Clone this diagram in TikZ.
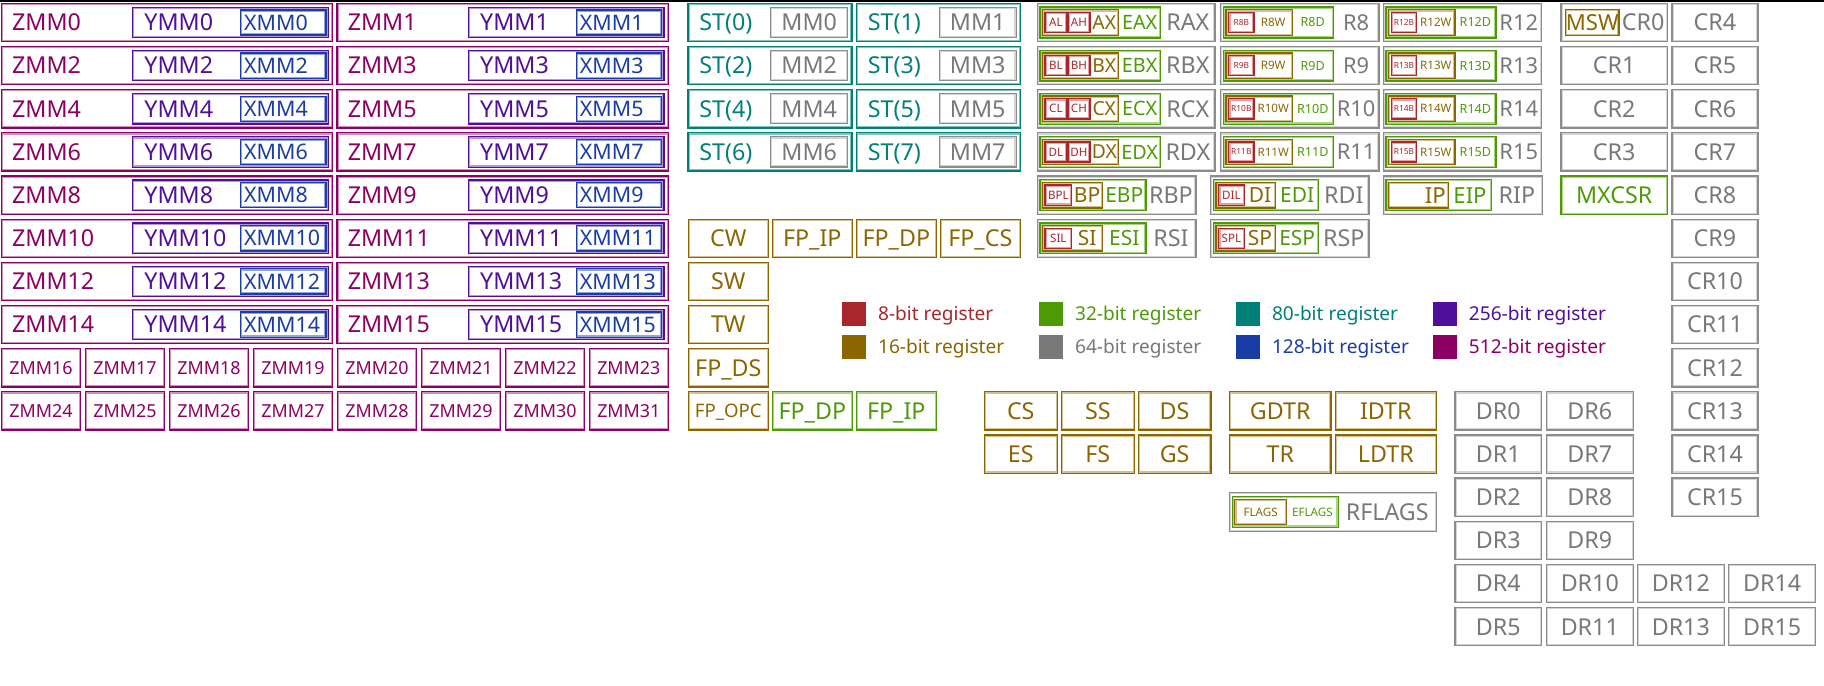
\documentclass[tikz,border=0pt]{standalone}
\usepackage{fontspec}
\setmainfont{Noto Sans}
\usetikzlibrary{fit}
\definecolor{c8}{RGB}{168,38,44}
\definecolor{c8L}{RGB}{226,160,162}
\definecolor{c16}{RGB}{140,101,0}
\definecolor{c16L}{RGB}{212,192,140}
\definecolor{c32}{RGB}{78,154,6}
\definecolor{c32L}{RGB}{172,212,135}
\definecolor{c64}{RGB}{120,120,120}
\definecolor{c64b}{RGB}{140,140,140}
\definecolor{c64bL}{RGB}{212,212,212}
\definecolor{c80}{RGB}{0,128,120}
\definecolor{c80L}{RGB}{125,198,192}
\definecolor{c128}{RGB}{25,60,165}
\definecolor{c128L}{RGB}{145,165,220}
\definecolor{c256}{RGB}{80,15,155}
\definecolor{c256L}{RGB}{180,152,218}
\definecolor{c512}{RGB}{140,0,100}
\definecolor{c512L}{RGB}{212,142,190}
\tikzset{
  rb/.style={draw=#1, line width=0.55pt, inner sep=0pt, outer sep=0pt,
    path picture={\draw[#1L, line width=1.5pt] (path picture bounding box.south west) rectangle (path picture bounding box.north east);}},
  tx/.style={inner sep=0pt, anchor=base, font=\fontsize{#1pt}{#1pt}\selectfont, yshift={-0.357*#1pt}},
  txw/.style={tx=#1, anchor=base west},
  swatch/.style={fill=#1, inner sep=0pt, minimum size=10.3pt, anchor=north west},
}
\newcommand\regbox[8]{%
  \pgfmathsetmacro\yt{2.9+37.1*(#3)}%
  \node[rb=#5, fit={(#2,\yt) (#4,\yt+32.9)}] (#1) {};
  \node[tx=#6, text=#8] (#1-t) at (#1.center) {#7};}
\begin{document}
\begin{tikzpicture}[x=0.5pt,y=-0.5pt]
\useasboundingbox (0,0) rectangle (1568,589);
\fill[black] (0,0) rectangle (1568,1.7);

% ---------- ZMM / YMM / XMM ----------
\foreach \ri in {0,...,7}{
  \pgfmathsetmacro\yt{2.9+37.1*\ri}
  \pgfmathsetmacro\yb{\yt+32.9}
  \pgfmathsetmacro\ym{\yt+16.45}
  \pgfmathtruncatemacro\na{2*\ri}
  \pgfmathtruncatemacro\nb{2*\ri+1}
  \foreach \n/\dx in {\na/0,\nb/288.6}{
    \node[rb=c512, fit={(1+\dx,\yt) (286+\dx,\yb)}] (zmm\n) {};
    \node[txw=10, text=c512] (zmm\n-t) at (10+\dx,\ym) {ZMM\n};
    \node[rb=c256, fit={(114.1+\dx,\yt+3.4) (282.2+\dx,\yb-3.4)}] (ymm\n) {};
    \node[txw=10, text=c256] (ymm\n-t) at (123.8+\dx,\ym) {YMM\n};
    \node[rb=c128, fit={(206.9+\dx,\yt+5.6) (280.2+\dx,\yb-5.6)}] (xmm\n) {};
    \node[txw=9.2, text=c128] (xmm\n-t) at (209.5+\dx,\ym) {XMM\n};
  }
}
\foreach \k in {0,...,7}{
  \pgfmathsetmacro\xl{1.1+72.2*\k}
  \pgfmathtruncatemacro\na{16+\k}
  \pgfmathtruncatemacro\nb{24+\k}
  \node[rb=c512, fit={(\xl,299.7) (\xl+68.2,332.6)}] (zmm\na) {};
  \node[tx=7.7, text=c512] (zmm\na-t) at (zmm\na.center) {ZMM\na};
  \node[rb=c512, fit={(\xl,336.8) (\xl+68.2,369.7)}] (zmm\nb) {};
  \node[tx=7.7, text=c512] (zmm\nb-t) at (zmm\nb.center) {ZMM\nb};
}

% ---------- x87 ST / MM ----------
\foreach \ri in {0,...,3}{
  \pgfmathsetmacro\yt{2.9+37.1*\ri}
  \pgfmathsetmacro\yb{\yt+32.9}
  \pgfmathsetmacro\ym{\yt+16.45}
  \pgfmathtruncatemacro\na{2*\ri}
  \pgfmathtruncatemacro\nb{2*\ri+1}
  \foreach \n/\dx in {\na/0,\nb/144.9}{
    \node[rb=c80, fit={(591.5+\dx,\yt) (732.4+\dx,\yb)}] (st\n) {};
    \node[tx=10, text=c80] (st\n-t) at (624+\dx,\ym) {ST(\n)};
    \node[rb=c64b, fit={(662.5+\dx,\yt+3.4) (728.7+\dx,\yb-3.6)}] (mm\n) {};
    \node[tx=10, text=c64] (mm\n-t) at (695.6+\dx,\ym) {MM\n};
  }
}

% ---------- x87 control ----------
\regbox{cw}{591.7}{5}{660.5}{c16}{10}{CW}{c16}
\regbox{fpip}{663.9}{5}{732.7}{c16}{10}{FP\_IP}{c16}
\regbox{fpdp}{736.1}{5}{804.9}{c16}{10}{FP\_DP}{c16}
\regbox{fpcs}{808.3}{5}{877.1}{c16}{10}{FP\_CS}{c16}
\regbox{sw}{591.7}{6}{660.5}{c16}{10}{SW}{c16}
\regbox{tw}{591.7}{7}{660.5}{c16}{10}{TW}{c16}
\regbox{fpds}{591.7}{8}{660.5}{c16}{10}{FP\_DS}{c16}
\regbox{fpopc}{591.7}{9}{660.5}{c16}{8}{FP\_OPC}{c16}
\regbox{fpdpb}{663.9}{9}{732.7}{c32}{10}{FP\_DP}{c32}
\regbox{fpipb}{736.1}{9}{804.9}{c32}{10}{FP\_IP}{c32}

% ---------- legend ----------
\foreach \col/\row/\cc/\bits in {0/0/c8/8,0/1/c16/16,1/0/c32/32,1/1/c64/64,2/0/c80/80,2/1/c128/128,3/0/c256/256,3/1/c512/512}{
  \pgfmathsetmacro\sx{723.2+169.3*\col}
  \pgfmathsetmacro\sy{259.6+27.8*\row}
  \node[swatch=\cc] (sw\bits) at (\sx,\sy) {};
  \node[txw=8.2, text=\cc] (lg\bits) at (\sx+31.3,\sy+10.3) {\bits-bit register};
}

% ---------- RAX..RDX ----------
\foreach \ri/\q in {0/A,1/B,2/C,3/D}{
  \pgfmathsetmacro\yt{2.9+37.1*\ri}
  \pgfmathsetmacro\yb{\yt+32.9}
  \pgfmathsetmacro\ym{\yt+16.45}
  \node[rb=c64b, fit={(891.7,\yt) (1044.4,\yb)}] (r\q-x) {};
  \node[rb=c32, fit={(894.1,\yt+3.2) (997.8,\yb-3.2)}] (e\q-x) {};
  \node[rb=c16, fit={(896.4,\yt+5.5) (961.6,\yb-5.5)}] (\q-x) {};
  \node[rb=c8, fit={(898.4,\yt+7.8) (917,\yb-7.8)}] (\q-l) {};
  \node[rb=c8, fit={(918.1,\yt+7.8) (937,\yb-7.8)}] (\q-h) {};
  \node[tx=10, text=c64] (r\q-x-t) at (1021.1,\ym) {R\q X};
  \node[tx=8.5, text=c32] (e\q-x-t) at (979.7,\ym) {E\q X};
  \node[tx=8.3, text=c16] (\q-x-t) at (949.3,\ym) {\q X};
  \node[tx=5, text=c8] (\q-l-t) at (907.7,\ym) {\q L};
  \node[tx=5, text=c8] (\q-h-t) at (927.5,\ym) {\q H};
}

% ---------- R8..R15 ----------
\foreach \c in {0,1}{
  \pgfmathsetmacro\dx{139.8*\c}
  \foreach \ri in {0,...,3}{
    \pgfmathsetmacro\yt{2.9+37.1*\ri}
    \pgfmathsetmacro\yb{\yt+32.9}
    \pgfmathsetmacro\ym{\yt+16.45}
    \pgfmathtruncatemacro\n{8+4*\c+\ri}
    \node[rb=c64b, fit={(1049.3+\dx,\yt) (1185.4+\dx,\yb)}] (r\n) {};
    \node[rb=c32, fit={(1051.7+\dx,\yt+3.2) (1146.2+\dx,\yb-3.2)}] (r\n-d) {};
    \node[rb=c16, fit={(1054+\dx,\yt+5.5) (1110.9+\dx,\yb-5.5)}] (r\n-w) {};
    \node[rb=c8, fit={(1056.3+\dx,\yt+7.8) (1078+\dx,\yb-7.8)}] (r\n-b) {};
    \node[tx=9.4, text=c64] (r\n-t) at (1165.8+\dx,\ym) {R\n};
    \node[tx=5.4, text=c32] (r\n-d-t) at (1128.5+\dx,\ym) {R\n D};
    \node[tx=5, text=c16] (r\n-w-t) at (1094.5+\dx,\ym) {R\n W};
    \node[tx=3.6, text=c8] (r\n-b-t) at (1067.1+\dx,\ym) {R\n B};
  }
}

% ---------- RBP RSI RDI RSP ----------
\foreach \ri/\pa/\pb in {4/BP/DI,5/SI/SP}{
  \pgfmathsetmacro\yt{2.9+37.1*\ri}
  \pgfmathsetmacro\yb{\yt+32.9}
  \pgfmathsetmacro\ym{\yt+16.45}
  \node[rb=c64b, fit={(891.7,\yt) (1028.1,\yb)}] (r\pa) {};
  \node[rb=c32, fit={(894.1,\yt+3.2) (985.1,\yb-3.2)}] (e\pa) {};
  \node[rb=c16, fit={(896.4,\yt+5.5) (947.9,\yb-5.5)}] (x\pa) {};
  \node[rb=c8, fit={(898.4,\yt+7.8) (921.2,\yb-7.8)}] (l\pa) {};
  \node[tx=5, text=c8] (l\pa-t) at (909.8,\ym) {\pa L};
  \node[tx=9, text=c16] (x\pa-t) at (934.5,\ym) {\pa};
  \node[tx=9, text=c32] (e\pa-t) at (966.5,\ym) {E\pa};
  \node[tx=10, text=c64] (r\pa-t) at (1006.6,\ym) {R\pa};
  \node[rb=c64b, fit={(1040.7,\yt) (1176.8,\yb)}] (r\pb) {};
  \node[rb=c32, fit={(1043.1,\yt+3.2) (1133.6,\yb-3.2)}] (e\pb) {};
  \node[rb=c16, fit={(1045.4,\yt+5.5) (1096.6,\yb-5.5)}] (x\pb) {};
  \node[rb=c8, fit={(1047.7,\yt+7.8) (1069.6,\yb-7.8)}] (l\pb) {};
  \node[tx=5, text=c8] (l\pb-t) at (1058.6,\ym) {\pb L};
  \node[tx=9, text=c16] (x\pb-t) at (1083.1,\ym) {\pb};
  \node[tx=9, text=c32] (e\pb-t) at (1115.1,\ym) {E\pb};
  \node[tx=10, text=c64] (r\pb-t) at (1155.2,\ym) {R\pb};
}

% ---------- RIP ----------
\node[rb=c64b, fit={(1189.1,151.3) (1325.8,184.2)}] (rip) {};
\node[rb=c32, fit={(1191.5,154.5) (1282.3,181)}] (eip) {};
\node[rb=c16, fit={(1193.8,156.8) (1245,178.7)}] (ip) {};
\node[tx=9.5, text=c16, anchor=base east] (ip-t) at (1243.3,167.75) {IP};
\node[tx=9.5, text=c32] (eip-t) at (1263.7,167.75) {EIP};
\node[tx=10, text=c64] (rip-t) at (1304,167.75) {RIP};

% ---------- control registers ----------
\node[rb=c64b, fit={(1341.9,2.9) (1433.3,35.8)}] (cr0) {};
\node[rb=c16, fit={(1345.9,8) (1391.7,30.7)}] (msw) {};
\node[tx=9.5, text=c16] (msw-t) at (1368.8,19.35) {MSW};
\node[tx=10, text=c64] (cr0-t) at (1412.5,19.35) {CR0};
\regbox{cr1}{1341.9}{1}{1433.3}{c64b}{10}{CR1}{c64}
\regbox{cr2}{1341.9}{2}{1433.3}{c64b}{10}{CR2}{c64}
\regbox{cr3}{1341.9}{3}{1433.3}{c64b}{10}{CR3}{c64}
\regbox{mxcsr}{1341.9}{4}{1433.3}{c32}{10}{MXCSR}{c32}
\foreach \ri in {0,...,11}{
  \pgfmathtruncatemacro\n{4+\ri}
  \regbox{cr\n}{1437.3}{\ri}{1511.2}{c64b}{10}{CR\n}{c64}
}

% ---------- debug registers ----------
\foreach \ri in {0,...,5}{
  \pgfmathtruncatemacro\n{6+\ri}
  \regbox{dr\ri}{1250.8}{9+\ri}{1325.3}{c64b}{10}{DR\ri}{c64}
  \regbox{dr\n}{1329.3}{9+\ri}{1404}{c64b}{10}{DR\n}{c64}
}
\regbox{dr12}{1407.5}{13}{1482.3}{c64b}{10}{DR12}{c64}
\regbox{dr13}{1407.5}{14}{1482.3}{c64b}{10}{DR13}{c64}
\regbox{dr14}{1486}{13}{1560.8}{c64b}{10}{DR14}{c64}
\regbox{dr15}{1486}{14}{1560.8}{c64b}{10}{DR15}{c64}

% ---------- segment / table registers ----------
\regbox{cs}{846.1}{9}{908.9}{c16}{10}{CS}{c16}
\regbox{ss}{912.3}{9}{975.1}{c16}{10}{SS}{c16}
\regbox{ds}{978.5}{9}{1041}{c16}{10}{DS}{c16}
\regbox{es}{846.1}{10}{908.9}{c16}{10}{ES}{c16}
\regbox{fs}{912.3}{10}{975.1}{c16}{10}{FS}{c16}
\regbox{gs}{978.5}{10}{1041}{c16}{10}{GS}{c16}
\regbox{gdtr}{1057}{9}{1144.2}{c16}{10}{GDTR}{c16}
\regbox{idtr}{1147.9}{9}{1234.7}{c16}{10}{IDTR}{c16}
\regbox{tr}{1057}{10}{1144.2}{c16}{10}{TR}{c16}
\regbox{ldtr}{1147.9}{10}{1234.7}{c16}{10}{LDTR}{c16}

% ---------- flags ----------
\node[rb=c64b, fit={(1057,423.5) (1234.7,456.7)}] (rflags) {};
\node[rb=c32, fit={(1059.3,427) (1150.4,453.2)}] (eflags) {};
\node[rb=c16, fit={(1061.5,429.3) (1106,450.9)}] (flags) {};
\node[tx=5, text=c16] (flags-t) at (1083.7,440.1) {FLAGS};
\node[tx=5, text=c32] (eflags-t) at (1128.2,440.1) {EFLAGS};
\node[tx=10, text=c64] (rflags-t) at (1192.5,440.1) {RFLAGS};
\end{tikzpicture}
\end{document}
